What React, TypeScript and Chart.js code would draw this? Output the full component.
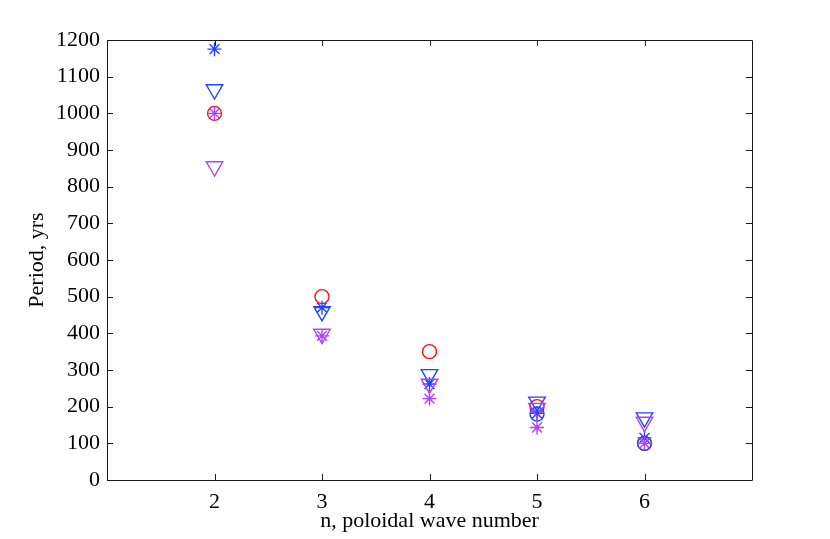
import { useEffect, useRef } from 'react';
import { Chart, registerables } from 'chart.js';
import type { ChartOptions, Plugin } from 'chart.js';

Chart.register(...registerables);

// poloidal wave number n
const waveNumbers = [2, 3, 4, 5, 6];
const yTicks = [0, 100, 200, 300, 400, 500, 600, 700, 800, 900, 1000, 1100, 1200];

// periods (yrs), null = no marker
const redCircles = [1000, 500, 350, 200, 100];
const blueCircles = [null, null, null, 180, 100];
const blueStars = [1175, 470, 262, 182, 115];
const blueTriangles = [1065, 460, 288, 213, 170];
const purpleTriangles = [855, 398, 262, 196, 158];
const purpleStars = [1000, 393, 222, 143, 100];

const RED = '#ff1010';
const BLUE = '#2244ff';
const PURPLE = '#b040ff';

const toPoints = (vals: (number | null)[]) =>
    waveNumbers
        .map((n, i) => ({ x: n, y: vals[i] }))
        .filter((p) => p.y !== null) as { x: number; y: number }[];

// MATLAB-like box with inward ticks on all four sides
const boxPlugin: Plugin<'scatter'> = {
    id: 'matlabBox',
    afterDraw(chart) {
        const { ctx, chartArea } = chart;
        const { left, right, top, bottom } = chartArea;
        const xs = chart.scales.x;
        const ys = chart.scales.y;
        const tl = 6;
        ctx.save();
        ctx.strokeStyle = '#1a1a1a';
        ctx.lineWidth = 1;
        ctx.beginPath();
        ctx.rect(Math.round(left) + 0.5, Math.round(top) + 0.5, Math.round(right - left), Math.round(bottom - top));
        waveNumbers.forEach((n) => {
            const px = Math.round(xs.getPixelForValue(n)) + 0.5;
            ctx.moveTo(px, bottom);
            ctx.lineTo(px, bottom - tl);
            ctx.moveTo(px, top);
            ctx.lineTo(px, top + tl);
        });
        yTicks.forEach((v) => {
            const py = Math.round(ys.getPixelForValue(v)) + 0.5;
            ctx.moveTo(left, py);
            ctx.lineTo(left + tl, py);
            ctx.moveTo(right, py);
            ctx.lineTo(right - tl, py);
        });
        ctx.stroke();
        ctx.restore();
    },
};

const serif = 'Liberation Serif';

const App = () => {
    const chartRef = useRef<HTMLCanvasElement | null>(null);

    useEffect(() => {
        const ctx = chartRef.current?.getContext('2d');
        if (!ctx) return;

        const star = { pointStyle: 'star' as const, pointRadius: 7 };
        const tri = { pointStyle: 'triangle' as const, pointRadius: 9.5, rotation: 180 };
        const circ = { pointStyle: 'circle' as const, pointRadius: 7 };

        // first dataset is painted last (on top)
        const datasets = [
            { label: 'purple *', data: toPoints(purpleStars), borderColor: PURPLE, ...star },
            { label: 'purple v', data: toPoints(purpleTriangles), borderColor: PURPLE, ...tri },
            { label: 'blue o', data: toPoints(blueCircles), borderColor: BLUE, ...circ },
            { label: 'blue v', data: toPoints(blueTriangles), borderColor: BLUE, ...tri },
            { label: 'blue *', data: toPoints(blueStars), borderColor: BLUE, ...star },
            { label: 'red o', data: toPoints(redCircles), borderColor: RED, ...circ },
        ].map((d) => ({
            ...d,
            backgroundColor: 'rgba(0,0,0,0)',
            pointBackgroundColor: 'rgba(0,0,0,0)',
            pointBorderWidth: 1.4,
            pointHoverRadius: d.pointRadius,
            showLine: false,
        }));

        const options: ChartOptions<'scatter'> = {
            responsive: false,
            animation: false,
            layout: { padding: { top: 40, right: 78, left: 0, bottom: 0 } },
            plugins: {
                legend: { display: false },
                tooltip: { enabled: false },
            },
            scales: {
                x: {
                    type: 'linear',
                    min: 1,
                    max: 7,
                    afterBuildTicks: (scale) => {
                        scale.ticks = waveNumbers.map((v) => ({ value: v }));
                    },
                    afterFit: (scale) => {
                        scale.height = 59;
                    },
                    grid: { display: false, drawTicks: false },
                    border: { display: false },
                    ticks: {
                        padding: 9,
                        color: '#000',
                        font: { family: serif, size: 22 },
                        callback: (v) => String(v),
                    },
                    title: {
                        display: true,
                        text: 'n, poloidal wave number',
                        color: '#000',
                        font: { family: serif, size: 22 },
                        padding: { top: 0, bottom: 5 },
                    },
                },
                y: {
                    type: 'linear',
                    min: 0,
                    max: 1200,
                    afterBuildTicks: (scale) => {
                        scale.ticks = yTicks.map((v) => ({ value: v }));
                    },
                    afterFit: (scale) => {
                        scale.width = 107;
                    },
                    grid: { display: false, drawTicks: false },
                    border: { display: false },
                    ticks: {
                        padding: 7,
                        color: '#000',
                        font: { family: serif, size: 22 },
                        callback: (v) => String(v),
                    },
                    title: {
                        display: true,
                        text: 'Period, yrs',
                        color: '#000',
                        font: { family: serif, size: 22 },
                        padding: { top: 24, bottom: 0 },
                    },
                },
            },
        };

        const chartInstance = new Chart(ctx, {
            type: 'scatter',
            data: { datasets },
            options,
            plugins: [boxPlugin],
        });

        return () => {
            chartInstance.destroy();
        };
    }, []);

    return (
        <div style={{ position: 'absolute', left: 0, top: 0, width: 830, height: 539, background: '#fff' }}>
            <canvas ref={chartRef} width="830" height="539" style={{ width: 830, height: 539 }}></canvas>
        </div>
    );
};

export default App;
